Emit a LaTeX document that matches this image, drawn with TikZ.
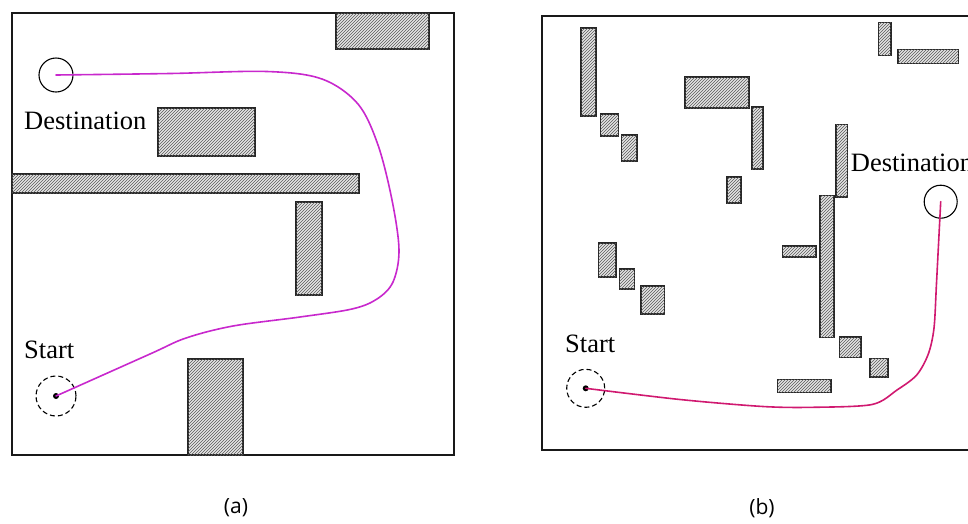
\documentclass[tikz,border=0pt]{standalone}
\usepackage{fontspec}
\setmainfont{Liberation Serif}
\newfontfamily\capfont{Open Sans}
\usetikzlibrary{patterns}
\definecolor{pathA}{RGB}{200,40,205}
\definecolor{pathB}{RGB}{208,25,112}
\tikzset{
  frame/.style={draw=black!90, line width=1.2pt},
  obst/.style={draw=black!85, line width=1.3pt, fill=gray!20,
    postaction={pattern=north east lines, pattern color=black!65}},
  lbl/.style={anchor=base west, inner sep=0pt, font=\fontsize{26.5}{30}\selectfont},
  capt/.style={inner sep=0pt, font=\capfont\fontsize{21}{25}\selectfont},
  destc/.style={circle, draw=black, line width=1.1pt, inner sep=0pt},
  startc/.style={circle, draw=black, line width=1.1pt, dash pattern=on 5pt off 3pt, inner sep=0pt},
  dotc/.style={circle, fill=black, inner sep=0pt, minimum size=6pt},
  patha/.style={draw=pathA, line width=1.6pt, line cap=round},
  pathb/.style={draw=pathB, line width=1.6pt, line cap=round},
}
\begin{document}
\begin{tikzpicture}[x=1pt, y=-1pt]
\useasboundingbox (0,0) rectangle (968,523);
\clip (0,0) rectangle (968,523);
% ---------- panel (a) ----------
\draw[frame] (12,13) rectangle (454,455);
\draw[obst] (336,13) rectangle (429,49);
\draw[obst] (158,108) rectangle (255,156);
\draw[obst] (12,174) rectangle (359,193);
\draw[obst] (296,202) rectangle (322,295);
\draw[obst] (188,359) rectangle (243,455);
\node[destc, minimum size=34pt] (da) at (56,75) {};
\node[startc, minimum size=40pt] (sa) at (56,396) {};
\node[dotc] (sdota) at (56,396) {};
\node[lbl] (desta) at (24,129) {Destination};
\node[lbl] (starta) at (24,358) {Start};
\draw[patha] plot[smooth, tension=0.55] coordinates {(da.center) (170,73.5) (267,71.5) (322,79) (358,104) (378,145) (392,200) (399,250) (393,282) (377,299) (352,309) (300,317) (233,326) (186,338) (150,354) (sa.center)};
\node[capt] (capa) at (236,508) {(a)};
% ---------- panel (b) ----------
\draw[frame] (542,16) rectangle (990,450);
\draw[obst] (581,28) rectangle (596,116);
\draw[obst] (600.5,114) rectangle (618.5,136);
\draw[obst] (621.5,135) rectangle (637,161);
\draw[obst] (685,77) rectangle (749,108);
\draw[obst] (752,107) rectangle (763,169);
\draw[obst] (727,177) rectangle (741,203);
\draw[obst] (878.5,22.5) rectangle (891,55.5);
\draw[obst] (898,49.5) rectangle (958.5,63.5);
\draw[obst] (836,124.5) rectangle (847.5,197);
\draw[obst] (820,195.5) rectangle (834,337.5);
\draw[obst] (782.5,246) rectangle (816,257);
\draw[obst] (598.5,243) rectangle (616,277);
\draw[obst] (619.5,269) rectangle (634.5,289);
\draw[obst] (641,286) rectangle (664.5,314);
\draw[obst] (839.5,337) rectangle (861,357.5);
\draw[obst] (870,358.5) rectangle (888,377);
\draw[obst] (777.5,379.5) rectangle (831,392.5);
\node[destc, minimum size=33pt] (db) at (940.7,201.7) {};
\node[startc, minimum size=38pt] (sb) at (585.7,388.3) {};
\node[dotc] (sdotb) at (585.7,388.3) {};
\node[lbl] (destb) at (850.7,171.3) {Destination};
\node[lbl] (startb) at (565,352.7) {Start};
\draw[pathb] plot[smooth, tension=0.5] coordinates {(sb.center) (680,399.5) (763,406.5) (813,407.3) (872,404.5) (897,390) (916.7,375) (928.3,354) (934,328) (936.5,283) (db.center)};
\node[capt] (capb) at (762,508) {(b)};
\end{tikzpicture}
\end{document}
